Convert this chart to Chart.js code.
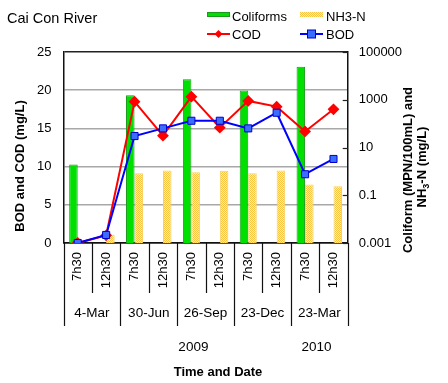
<!DOCTYPE html>
<html><head><meta charset="utf-8">
<script src="https://cdn.jsdelivr.net/npm/chart.js@4.4.1/dist/chart.umd.min.js"></script>
<style>html,body{margin:0;padding:0;background:#fff}canvas{display:block}</style>
</head><body>
<canvas id="c" width="448" height="383"></canvas>
<script>
// ---- data ----
const times = ['7h30', '12h30'];
const dates = ['4-Mar', '30-Jun', '26-Sep', '23-Dec', '23-Mar'];
const years = ['2009', '2010'];
const coliforms = [1.95, null, 1550, null, 7270, null, 2450, null, 24000, null];
const nh3n = [null, 0.0022, 0.83, 1.1, 0.93, 1.07, 0.83, 1.1, 0.28, 0.24];
const cod = [0, 1.0, 18.5, 14.05, 19.15, 15.1, 18.6, 17.85, 14.6, 17.5];
const bod = [0, 1.05, 14.0, 15.0, 16.0, 16.0, 15.0, 17.05, 9.0, 11.0];
const leftTicks = [0, 5, 10, 15, 20, 25];
const rightTicks = [0.001, 0.1, 10, 1000, 100000];

const labels = [];
dates.forEach(d => times.forEach(t => labels.push(t)));

const FONT = '"Liberation Sans", Arial, sans-serif';

function hatch() {
  const c = document.createElement('canvas');
  c.width = 2; c.height = 2;
  const g = c.getContext('2d');
  g.fillStyle = '#fff0b4'; g.fillRect(0, 0, 2, 2);
  g.fillStyle = '#f8c43e'; g.fillRect(0, 0, 1, 1); g.fillRect(1, 1, 1, 1);
  return g.createPattern(c, 'repeat');
}
const yellowPat = hatch();
const GREEN = '#00e000', GREEN_B = '#1a9a1a';
const RED = '#ff0000';
const BLUE = '#0000ff', BLUE_F = '#3a6cff';

const extras = {
  id: 'extras',
  afterDraw(chart) {
    const ctx = chart.ctx, x = chart.scales.x, y1 = chart.scales.y1, ca = chart.chartArea;
    ctx.save();
    ctx.fillStyle = '#000';
    // title
    ctx.font = '14.5px ' + FONT;
    ctx.textBaseline = 'middle'; ctx.textAlign = 'left';
    ctx.fillText('Cai Con River', 7, 19);
    // legend
    ctx.font = '13px ' + FONT;
    ctx.fillStyle = GREEN; ctx.fillRect(207, 12, 23, 5);
    ctx.strokeStyle = GREEN_B; ctx.lineWidth = 1; ctx.strokeRect(207.5, 12.5, 22, 4);
    ctx.fillStyle = yellowPat; ctx.fillRect(300, 12, 23, 5);
    ctx.fillStyle = '#000';
    ctx.fillText(chart.data.datasets[2].label, 232, 17);
    ctx.fillText(chart.data.datasets[3].label, 326, 17);
    ctx.fillText(chart.data.datasets[1].label, 232, 35);
    ctx.fillText(chart.data.datasets[0].label, 326, 35);
    ctx.strokeStyle = RED; ctx.lineWidth = 2;
    ctx.beginPath(); ctx.moveTo(207, 34); ctx.lineTo(230, 34); ctx.stroke();
    ctx.fillStyle = RED; ctx.beginPath();
    ctx.moveTo(218.5, 30); ctx.lineTo(222.5, 34); ctx.lineTo(218.5, 38); ctx.lineTo(214.5, 34); ctx.closePath(); ctx.fill();
    ctx.strokeStyle = BLUE; ctx.lineWidth = 2;
    ctx.beginPath(); ctx.moveTo(300, 34); ctx.lineTo(323, 34); ctx.stroke();
    ctx.fillStyle = BLUE_F; ctx.fillRect(307.5, 30, 8, 8);
    ctx.strokeStyle = '#0000cc'; ctx.lineWidth = 1; ctx.strokeRect(307.5, 30, 8, 8);

    // separators below x axis
    ctx.strokeStyle = '#111'; ctx.lineWidth = 1.2;
    for (let i = 0; i <= labels.length; i++) {
      const px = Math.round(x.getPixelForValue(i - 0.5)) + 0.5;
      ctx.beginPath(); ctx.moveTo(px, ca.bottom);
      ctx.lineTo(px, i % 2 === 0 ? 326 : 293); ctx.stroke();
    }
    // date labels
    ctx.fillStyle = '#000'; ctx.textAlign = 'center'; ctx.font = '13.5px ' + FONT;
    dates.forEach((d, k) => ctx.fillText(d, x.getPixelForValue(2 * k + 0.5), 313));
    // years
    ctx.fillText(years[0], x.getPixelForValue(4) + 2, 347);
    ctx.fillText(years[1], x.getPixelForValue(8.4), 347);
    // x title
    ctx.font = 'bold 13px ' + FONT;
    ctx.fillText('Time and Date', 218, 372);
    // left y title
    ctx.save(); ctx.translate(20, 166); ctx.rotate(-Math.PI / 2);
    ctx.fillText('BOD and COD (mg/L)', 0, 0); ctx.restore();
    // right y title
    ctx.save(); ctx.translate(408, 170); ctx.rotate(-Math.PI / 2);
    ctx.fillText('Coliform (MPN/100mL) and', 0, 0); ctx.restore();
    ctx.save(); ctx.translate(422.5, 167); ctx.rotate(-Math.PI / 2);
    ctx.textAlign = 'left';
    const p1 = 'NH', p2 = '3', p3 = '-N (mg/L)';
    ctx.font = 'bold 13px ' + FONT;
    const w1 = ctx.measureText(p1).width, w3 = ctx.measureText(p3).width;
    ctx.font = 'bold 9px ' + FONT;
    const w2 = ctx.measureText(p2).width;
    let sx = -(w1 + w2 + w3) / 2;
    ctx.font = 'bold 13px ' + FONT; ctx.fillText(p1, sx, 0); sx += w1;
    ctx.font = 'bold 9px ' + FONT; ctx.fillText(p2, sx, 4); sx += w2;
    ctx.font = 'bold 13px ' + FONT; ctx.fillText(p3, sx, 0);
    ctx.restore();
    // inner right ticks
    ctx.strokeStyle = '#222'; ctx.lineWidth = 1.2;
    rightTicks.forEach(v => {
      const py = Math.round(y1.getPixelForValue(v)) + 0.5;
      ctx.beginPath(); ctx.moveTo(ca.right - 5, py); ctx.lineTo(ca.right, py); ctx.stroke();
    });
    ctx.restore();
  }
};

new Chart(document.getElementById('c'), {
  data: {
    labels: labels,
    datasets: [
      { type: 'line', label: 'BOD', data: bod, yAxisID: 'y', borderColor: BLUE, borderWidth: 2,
        pointStyle: 'rect', pointRadius: 5, pointBackgroundColor: BLUE_F, pointBorderColor: '#0000cc',
        pointBorderWidth: 1, tension: 0, spanGaps: true },
      { type: 'line', label: 'COD', data: cod, yAxisID: 'y', borderColor: RED, borderWidth: 2,
        pointStyle: 'rectRot', pointRadius: 4.5, pointBackgroundColor: RED, pointBorderColor: RED,
        tension: 0, spanGaps: true },
      { type: 'bar', label: 'Coliforms', data: coliforms, yAxisID: 'y1', backgroundColor: GREEN,
        borderColor: GREEN_B, borderWidth: 1, categoryPercentage: 0.6, barPercentage: 1.0 },
      { type: 'bar', label: 'NH3-N', data: nh3n, yAxisID: 'y1', backgroundColor: yellowPat,
        borderColor: '#f9cf5a', borderWidth: 1, categoryPercentage: 0.6, barPercentage: 1.0 }
    ]
  },
  options: {
    responsive: false,
    animation: false,
    devicePixelRatio: 1,
    layout: { padding: { top: 52, left: 0, right: 0, bottom: 0 } },
    plugins: { legend: { display: false }, title: { display: false }, tooltip: { enabled: false } },
    scales: {
      x: {
        type: 'category', offset: true,
        grid: { display: false, drawTicks: false },
        border: { color: '#111', width: 1.5 },
        ticks: { minRotation: 90, maxRotation: 90, autoSkip: false, padding: 9,
                 color: '#000', font: { family: FONT, size: 13 } },
        afterFit(s) { s.height = 140; }
      },
      y: {
        position: 'left', min: 0, max: 25,
        afterBuildTicks(s) { s.ticks = leftTicks.map(v => ({ value: v })); },
        ticks: { padding: 12, color: '#000', font: { family: FONT, size: 13 } },
        grid: { drawTicks: false, lineWidth: 1.6,
                color: c => (c.tick.value === 0 || c.tick.value === 25) ? '#222' : '#a8a8a8' },
        border: { color: '#111', width: 1.5 },
        afterFit(s) { s.width = 63.5; }
      },
      y1: {
        type: 'logarithmic', position: 'right', min: 0.001, max: 100000,
        afterBuildTicks(s) { s.ticks = rightTicks.map(v => ({ value: v })); },
        ticks: { padding: 11, color: '#000', font: { family: FONT, size: 13 },
                 callback: v => String(v) },
        grid: { drawOnChartArea: false, drawTicks: false },
        border: { color: '#111', width: 1.5 },
        afterFit(s) { s.width = 100.3; }
      }
    }
  },
  plugins: [extras]
});
</script>
</body></html>
